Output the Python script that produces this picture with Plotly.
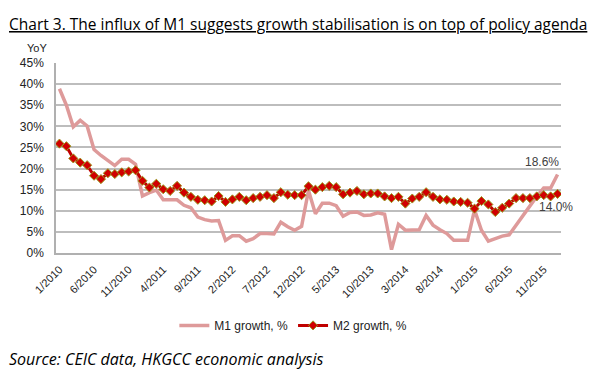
import plotly.graph_objects as go

months = [f"{m}/{y}" for y in range(2010, 2017) for m in range(1, 13)][:73]

m1_growth = [
    38.9, 35.0, 29.9, 31.4, 30.1, 24.5, 23.1, 22.0, 20.7, 22.2, 22.2, 21.0,
    13.5, 14.3, 14.9, 12.6, 12.5, 12.6, 11.3, 10.7, 8.5, 7.9, 7.6, 7.7,
    3.0, 4.1, 4.1, 2.8, 3.4, 4.6, 4.6, 4.5, 7.3, 6.2, 5.4, 6.3,
    14.8, 9.3, 11.8, 11.8, 11.2, 8.7, 9.6, 9.7, 8.9, 9.0, 9.5, 9.2,
    0.8, 6.8, 5.4, 5.5, 5.5, 8.9, 6.6, 5.5, 4.6, 3.0, 3.0, 3.0,
    10.2, 5.4, 2.8, 3.4, 4.0, 4.3, 6.6, 9.0, 11.0, 13.4, 15.4, 15.4,
    18.6,
]
m2_growth = [
    25.9, 25.3, 22.4, 21.4, 20.8, 18.3, 17.5, 18.9, 18.7, 19.1, 19.3, 19.6,
    17.1, 15.5, 16.4, 15.1, 14.7, 15.9, 14.3, 13.3, 12.6, 12.5, 12.2, 13.5,
    12.1, 12.7, 13.3, 12.5, 13.0, 13.3, 13.7, 13.0, 14.4, 13.8, 13.7, 13.7,
    15.8, 15.0, 15.6, 15.9, 15.6, 13.9, 14.3, 14.7, 13.9, 14.1, 14.1, 13.4,
    13.0, 13.3, 11.7, 12.9, 13.3, 14.4, 13.3, 12.7, 12.6, 12.2, 12.1, 11.9,
    10.5, 12.3, 11.5, 9.7, 10.7, 11.7, 13.0, 13.0, 13.0, 13.4, 13.7, 13.4,
    14.0,
]
tick_labels = months[0:73:5][:15]
y_ticks = [0, 5, 10, 15, 20, 25, 30, 35, 40, 45]

fig = go.Figure()
fig.add_trace(go.Scatter(
    x=months, y=m1_growth, mode="lines", name="M1 growth, %",
    line=dict(color="#DE9A9A", width=3.5),
))
fig.add_trace(go.Scatter(
    x=months, y=m2_growth, mode="lines+markers", name="M2 growth, %",
    line=dict(color="#C00000", width=3),
    marker=dict(symbol="diamond", size=7, color="#D00000",
                line=dict(color="#9A9A1E", width=1)),
))

fig.add_annotation(x=months[-1], y=m1_growth[-1], text="18.6%", showarrow=False,
                   xshift=-16, yshift=12, font=dict(family="Liberation Sans, Arial", size=12, color="#404040"))
fig.add_annotation(x=months[-1], y=m2_growth[-1], text="14.0%", showarrow=False,
                   xshift=-2, yshift=-13, font=dict(family="Liberation Sans, Arial", size=12, color="#404040"))

fig.add_annotation(xref="paper", yref="paper", x=-0.037, y=1.081, text="YoY", showarrow=False,
                   xanchor="center", yanchor="middle",
                   font=dict(family="Liberation Sans, Arial", size=11, color="#222"))

fig.add_annotation(xref="paper", yref="paper", x=-0.098, y=1.205,
                   text="Chart 3. The influx of M1 suggests growth stabilisation is on top of policy agenda",
                   showarrow=False, xanchor="left", yanchor="middle",
                   font=dict(family="Open Sans", size=15.5, color="#000", lineposition="under"))

fig.add_annotation(xref="paper", yref="paper", x=-0.098, y=-0.56,
                   text="<i>Source: CEIC data, HKGCC economic analysis</i>",
                   showarrow=False, xanchor="left", yanchor="middle",
                   font=dict(family="Open Sans", size=16, color="#000"))

fig.update_layout(
    width=592, height=370,
    margin=dict(l=45, r=39, t=55, b=125),
    paper_bgcolor="white", plot_bgcolor="white",
    showlegend=True,
    legend=dict(orientation="h", xref="paper", yref="paper", x=0.47, y=-0.381,
                xanchor="center", yanchor="middle", itemwidth=30,
                font=dict(family="Liberation Sans, Arial", size=12, color="#222")),
    xaxis=dict(type="category", range=[-0.5, 72.5], tickmode="array",
               tickvals=tick_labels, ticktext=tick_labels, tickangle=-45,
               showgrid=False, showline=True, linecolor="#B0B0B0", linewidth=1.5,
               ticks="", tickfont=dict(family="Liberation Sans, Arial", size=11, color="#222"),
               ticklabelstandoff=4),
    yaxis=dict(range=[0, 45], tickvals=y_ticks, ticktext=[f"{v}%" for v in y_ticks],
               showgrid=True, gridcolor="#BDBDBD", gridwidth=1.5,
               showline=True, linecolor="#B0B0B0", linewidth=1.5, zeroline=False,
               ticks="", tickfont=dict(family="Liberation Sans, Arial", size=12, color="#222"),
               ticklabelstandoff=8),
)

fig.write_html("out.html")
